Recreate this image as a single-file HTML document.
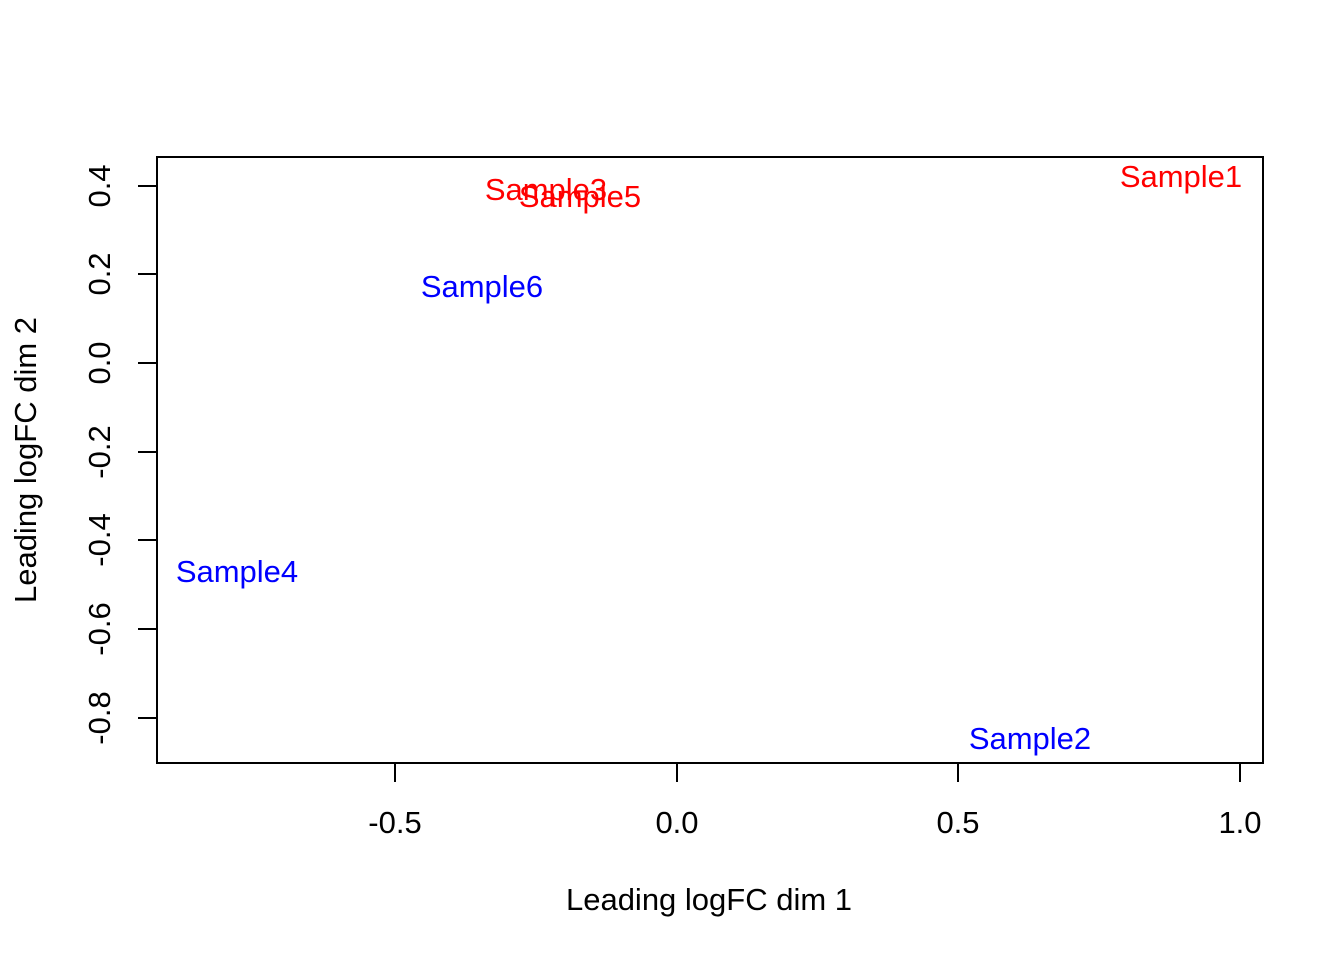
<!DOCTYPE html>
<html><head><meta charset="utf-8"><style>body{margin:0;background:#fff}</style></head><body>
<svg width="1344" height="960" xmlns="http://www.w3.org/2000/svg" font-family="Liberation Sans, Arial, sans-serif" font-size="31">
<rect width="1344" height="960" fill="#fff"/>
<rect x="157" y="157" width="1106" height="606" fill="none" stroke="#000" stroke-width="2"/>
<g stroke="#000" stroke-width="2">
<line x1="395" y1="763" x2="1240" y2="763"/>
<line x1="395" y1="763" x2="395" y2="782"/><line x1="677" y1="763" x2="677" y2="782"/>
<line x1="958" y1="763" x2="958" y2="782"/><line x1="1240" y1="763" x2="1240" y2="782"/>
<line x1="157" y1="186" x2="157" y2="718"/>
<line x1="138" y1="186" x2="157" y2="186"/><line x1="138" y1="274" x2="157" y2="274"/>
<line x1="138" y1="363" x2="157" y2="363"/><line x1="138" y1="452" x2="157" y2="452"/>
<line x1="138" y1="540" x2="157" y2="540"/><line x1="138" y1="629" x2="157" y2="629"/>
<line x1="138" y1="718" x2="157" y2="718"/>
</g>
<g text-anchor="middle" fill="#000">
<text x="395" y="833">-0.5</text><text x="677" y="833">0.0</text>
<text x="958" y="833">0.5</text><text x="1240" y="833">1.0</text>
<text x="709" y="910">Leading logFC dim 1</text>
<g transform="translate(110,0)">
<text transform="translate(0,186) rotate(-90)">0.4</text>
<text transform="translate(0,274) rotate(-90)">0.2</text>
<text transform="translate(0,363) rotate(-90)">0.0</text>
<text transform="translate(0,452) rotate(-90)">-0.2</text>
<text transform="translate(0,540) rotate(-90)">-0.4</text>
<text transform="translate(0,629) rotate(-90)">-0.6</text>
<text transform="translate(0,718) rotate(-90)">-0.8</text>
</g>
<text transform="translate(36,460) rotate(-90)">Leading logFC dim 2</text>
</g>
<g text-anchor="middle">
<text x="1181" y="187" fill="#f00">Sample1</text>
<text x="546" y="200" fill="#f00">Sample3</text>
<text x="580" y="207" fill="#f00">Sample5</text>
<text x="482" y="297" fill="#00f">Sample6</text>
<text x="237" y="582" fill="#00f">Sample4</text>
<text x="1030" y="749" fill="#00f">Sample2</text>
</g>
</svg>
</body></html>
